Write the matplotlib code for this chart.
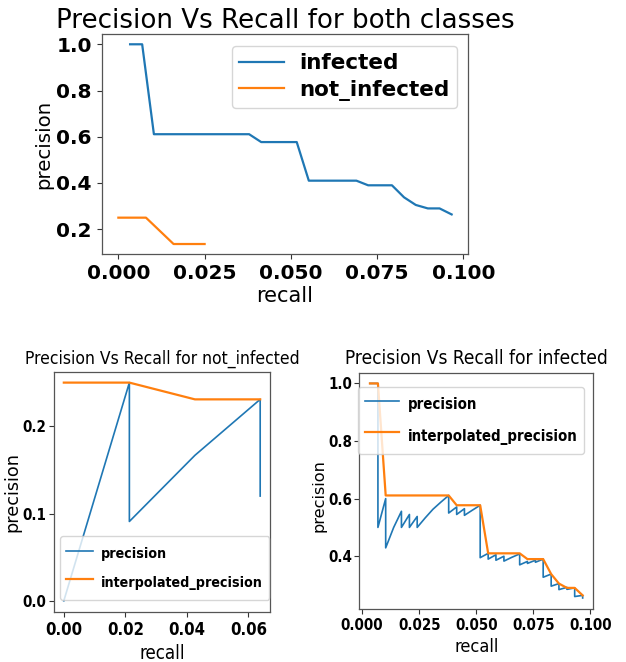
import os
import matplotlib
matplotlib.use("Agg")
import matplotlib.pyplot as plt
from matplotlib import font_manager as fm
from matplotlib.textpath import TextToPath

# ---------------- data ----------------
# interpolated precision of class "infected" (top chart + orange line bottom right)
inf_interp_recall = [0.0034, 0.0069, 0.0103, 0.0379, 0.0414, 0.0517, 0.0552, 0.0690,
                     0.0724, 0.0793, 0.0828, 0.0862, 0.0897, 0.0931, 0.0966]
inf_interp_precision = [1.0, 1.0, 0.611, 0.611, 0.577, 0.577, 0.410, 0.410,
                        0.390, 0.390, 0.338, 0.305, 0.290, 0.290, 0.264]

# class "not_infected" in the top chart
both_ni_recall = [0.0, 0.008, 0.016, 0.025]
both_ni_precision = [0.25, 0.25, 0.136, 0.136]

# bottom left: not_infected
ni_recall = [0.0, 0.0213, 0.0213, 0.0426, 0.0638, 0.0638]
ni_precision = [0.0, 0.25, 0.0909, 0.1667, 0.2308, 0.12]
ni_interp_recall = [0.0, 0.0213, 0.0426, 0.0638]
ni_interp_precision = [0.25, 0.25, 0.2308, 0.2308]

# bottom right: infected raw precision
inf_recall = [0.0034, 0.0069, 0.0069, 0.0103, 0.0103, 0.0138, 0.0172, 0.0172, 0.0207,
              0.0207, 0.0241, 0.0241, 0.0276, 0.0310, 0.0345, 0.0379, 0.0379, 0.0414,
              0.0414, 0.0448, 0.0448, 0.0483, 0.0517, 0.0517, 0.0552, 0.0552, 0.0586,
              0.0586, 0.0621, 0.0621, 0.0655, 0.0690, 0.0690, 0.0724, 0.0724, 0.0759,
              0.0759, 0.0793, 0.0793, 0.0828, 0.0828, 0.0862, 0.0862, 0.0897, 0.0897,
              0.0931, 0.0931, 0.0966, 0.0966]
inf_precision = [1.0, 1.0, 0.5, 0.6, 0.429, 0.5, 0.556, 0.5, 0.545,
                 0.5, 0.538, 0.5, 0.533, 0.563, 0.588, 0.611, 0.55, 0.571,
                 0.545, 0.565, 0.542, 0.56, 0.577, 0.395, 0.41, 0.39, 0.405,
                 0.386, 0.40, 0.383, 0.396, 0.408, 0.37, 0.382, 0.375, 0.386,
                 0.379, 0.39, 0.327, 0.338, 0.296, 0.305, 0.284, 0.292, 0.285,
                 0.29, 0.26, 0.264, 0.255]

top_xticks = [0.0, 0.025, 0.05, 0.075, 0.1]
top_xticklabels = ["0.000", "0.025", "0.050", "0.075", "0.100"]
top_yticks = [0.2, 0.4, 0.6, 0.8, 1.0]
top_yticklabels = ["0.2", "0.4", "0.6", "0.8", "1.0"]
left_xticks = [0.0, 0.02, 0.04, 0.06]
left_xticklabels = ["0.00", "0.02", "0.04", "0.06"]
left_yticks = [0.0, 0.1, 0.2]
left_yticklabels = ["0.0", "0.1", "0.2"]
right_xticks = [0.0, 0.025, 0.05, 0.075, 0.1]
right_xticklabels = ["0.000", "0.025", "0.050", "0.075", "0.100"]
right_yticks = [0.4, 0.6, 0.8, 1.0]
right_yticklabels = ["0.4", "0.6", "0.8", "1.0"]

BLUE = "#1f77b4"
ORANGE = "#ff7f0e"
DPI = 100

# ---------------- fonts ----------------
def pick_font(names, fallback):
    files = {}
    for f in fm.fontManager.ttflist:
        files.setdefault(os.path.basename(f.fname).lower(), f.fname)
    try:
        for p in fm.findSystemFonts():
            files.setdefault(os.path.basename(p).lower(), p)
    except Exception:
        pass
    for n in names:
        if n.lower() in files:
            return fm.FontProperties(fname=files[n.lower()])
    return fallback

bold_c = pick_font(["NotoSans-ExtraCondensedBold.ttf", "LiberationSansNarrow-Bold.ttf",
                    "NotoSans-CondensedBold.ttf", "DejaVuSansCondensed-Bold.ttf"],
                   fm.FontProperties(family="DejaVu Sans", weight="bold"))
reg_c = pick_font(["NotoSans-ExtraCondensed.ttf", "LiberationSansNarrow-Regular.ttf",
                   "NotoSans-Condensed.ttf", "DejaVuSansCondensed.ttf"],
                  fm.FontProperties(family="DejaVu Sans"))
bold_n = fm.FontProperties(family="DejaVu Sans", weight="bold")
reg_n = fm.FontProperties(family="DejaVu Sans")

_ttp = TextToPath()

def fit(fp, text, px, k=1.0):
    p = fp.copy()
    p.set_size(100)
    w, h, d = _ttp.get_text_width_height_descent(text, p, ismath=False)
    q = fp.copy()
    q.set_size(px * 72.0 / w * k)
    return q

def style(ax):
    for s in ax.spines.values():
        s.set_color("#555555")
        s.set_linewidth(0.9)
    ax.tick_params(colors="#333333", labelcolor="black")

fig = plt.figure(figsize=(6.26, 6.62), dpi=DPI)
W, H = 626.0, 662.0

# ---------------- top chart ----------------
ax1 = fig.add_axes([101.7 / W, 1 - 254 / H, (468.3 - 101.7) / W, (254 - 34.3) / H])
ax1.plot(inf_interp_recall, inf_interp_precision, color=BLUE, lw=1.6, label="infected")
ax1.plot(both_ni_recall, both_ni_precision, color=ORANGE, lw=1.6, label="not_infected")
tk1 = fit(bold_n, "0.000", 67, 0.95)
ax1.set_xticks(top_xticks)
ax1.set_xticklabels(top_xticklabels, fontproperties=tk1)
ax1.set_yticks(top_yticks)
ax1.set_yticklabels(top_yticklabels, fontproperties=tk1)
ax1.set_title("Precision Vs Recall for both classes",
              fontproperties=fit(reg_n, "Precision Vs Recall for both classes", 458), pad=4)
ax1.set_xlabel("recall", fontproperties=fit(reg_n, "recall", 57), labelpad=2)
ax1.set_ylabel("precision", fontproperties=fit(reg_n, "precision", 89), labelpad=2)
lg1p = fit(bold_n, "not_infected", 151)
ax1.legend(prop=lg1p, loc="upper right", bbox_to_anchor=(0.969, 0.947),
           borderaxespad=0, handlelength=45 / (lg1p.get_size() * DPI / 72),
           labelspacing=0.3, borderpad=0.35, handletextpad=0.7)
style(ax1)

# ---------------- bottom left ----------------
ax2 = fig.add_axes([54 / W, 1 - 611.7 / H, 216 / W, 240 / H])
ax2.plot(ni_recall, ni_precision, color=BLUE, lw=1.2, label="precision")
ax2.plot(ni_interp_recall, ni_interp_precision, color=ORANGE, lw=1.6,
         label="interpolated_precision")
ax2.set_xticks(left_xticks)
ax2.set_xticklabels(left_xticklabels, fontproperties=fit(bold_c, "0.00", 33, 1.12))
ax2.set_yticks(left_yticks)
ax2.set_yticklabels(left_yticklabels, fontproperties=fit(bold_c, "0.2", 24))
ax2.tick_params(axis="y", pad=2)
ax2.set_title("Precision Vs Recall for not_infected",
              fontproperties=fit(reg_c, "Precision Vs Recall for not_infected", 269, 1.02),
              pad=6)
ax2.set_xlabel("recall", fontproperties=fit(reg_c, "recall", 38, 1.2), labelpad=3)
ax2.set_ylabel("precision", fontproperties=fit(reg_n, "precision", 97, 0.82))
ax2.yaxis.set_label_coords(-0.153, 0.5)
lg2p = fit(bold_c, "interpolated_precision", 161, 1.0)
fs2 = lg2p.get_size() * DPI / 72
ax2.legend(prop=lg2p, loc="lower left", bbox_to_anchor=(0.028, 0.049),
           borderaxespad=0, handlelength=27 / fs2, handleheight=2.0,
           labelspacing=0.5, handletextpad=0.55, borderpad=0.45)
style(ax2)

# ---------------- bottom right ----------------
ax3 = fig.add_axes([359.3 / W, 1 - 608.7 / H, 234 / W, 236 / H])
ax3.plot(inf_recall, inf_precision, color=BLUE, lw=1.2, label="precision")
ax3.plot(inf_interp_recall, inf_interp_precision, color=ORANGE, lw=1.6,
         label="interpolated_precision")
tk3 = fit(bold_c, "0.000", 38, 1.12)
ax3.set_xticks(right_xticks)
ax3.set_xticklabels(right_xticklabels, fontproperties=tk3)
ax3.set_yticks(right_yticks)
ax3.set_yticklabels(right_yticklabels, fontproperties=tk3)
ax3.tick_params(axis="y", pad=1.5)
ax3.set_title("Precision Vs Recall for infected",
              fontproperties=fit(reg_c, "Precision Vs Recall for infected", 258, 1.02),
              pad=6)
ax3.set_xlabel("recall", fontproperties=fit(reg_c, "recall", 37, 1.2), labelpad=3)
ax3.set_ylabel("precision", fontproperties=fit(reg_n, "precision", 89, 0.82))
ax3.yaxis.set_label_coords(-0.142, 0.48)
lg3p = fit(bold_c, "interpolated_precision", 176, 0.96)
fs3 = lg3p.get_size() * DPI / 72
ax3.legend(prop=lg3p, loc="upper left", bbox_to_anchor=(-0.005, 0.941),
           borderaxespad=0, handlelength=34 / fs3, handleheight=2.0,
           labelspacing=0.55, handletextpad=0.6, borderpad=0.45)
style(ax3)

fig.savefig("out.png", dpi=DPI)
